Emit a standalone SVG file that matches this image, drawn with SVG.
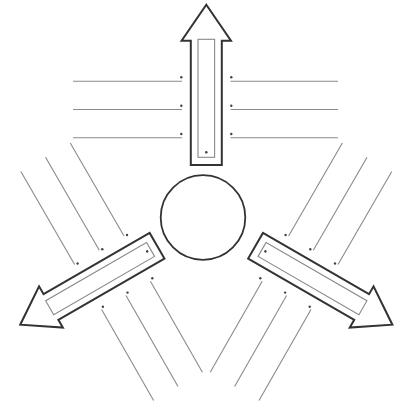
<svg xmlns="http://www.w3.org/2000/svg" width="401" height="406" viewBox="0 0 401 406">
<style>
.arrow{fill:#fff;stroke:#333;stroke-width:2;stroke-linejoin:miter}
.inner{fill:none;stroke:#888;stroke-width:1.1}
.ln{stroke:#8a8a8a;stroke-width:1.1;fill:none}
.dot{fill:#444}
.hub{fill:#fff;stroke:#333;stroke-width:1.8}
</style>
<rect width="401" height="406" fill="#fff"/>
<g id="hub"><circle class="hub" cx="203" cy="217.5" r="42.3"/></g>
<g id="arrow-up" transform="translate(206.3,165)">
<polygon class="arrow" points="-15.5,0 -15.5,-124.3 -24.7,-124.3 0,-160.3 24.7,-124.3 15.5,-124.3 15.5,0"/>
<rect class="inner" x="-8.3" y="-125.7" width="16.6" height="118"/>
<circle class="dot" cx="0" cy="-12.7" r="1.3"/>
</g>
<g id="arrow-left" transform="translate(157.05,245.7) rotate(-120)">
<polygon class="arrow" points="-14.8,0 -14.8,-122.5 -23.8,-122.5 0,-158 23.8,-122.5 14.8,-122.5 14.8,0"/>
<rect class="inner" x="-8" y="-124" width="16" height="116.5"/>
<circle class="dot" cx="0" cy="-11.4" r="1.3"/>
</g>
<g id="arrow-right" transform="translate(255.55,245.7) rotate(120)">
<polygon class="arrow" points="-14.8,0 -14.8,-122.5 -23.8,-122.5 0,-158 23.8,-122.5 14.8,-122.5 14.8,0"/>
<rect class="inner" x="-8" y="-124" width="16" height="116.5"/>
<circle class="dot" cx="0" cy="-11.4" r="1.3"/>
</g>
<g id="connectors">
<line class="ln" x1="73" y1="81.2" x2="182" y2="81.2"/>
<line class="ln" x1="73" y1="109.5" x2="182" y2="109.5"/>
<line class="ln" x1="73" y1="137.8" x2="182" y2="137.8"/>
<line class="ln" x1="230.5" y1="81.2" x2="338" y2="81.2"/>
<line class="ln" x1="230.5" y1="109.5" x2="338" y2="109.5"/>
<line class="ln" x1="230.5" y1="137.8" x2="338" y2="137.8"/>
<line class="ln" x1="20.85" y1="171.4" x2="74.6" y2="264.5"/>
<line class="ln" x1="45.55" y1="157.15" x2="99.3" y2="250.25"/>
<line class="ln" x1="70.25" y1="142.9" x2="124" y2="236"/>
<line class="ln" x1="150.4" y1="281.2" x2="202.4" y2="372.2"/>
<line class="ln" x1="126" y1="295.4" x2="178" y2="386.4"/>
<line class="ln" x1="101.6" y1="309.6" x2="153.6" y2="400.6"/>
<line class="ln" x1="391.75" y1="171.4" x2="338" y2="264.5"/>
<line class="ln" x1="367.05" y1="157.15" x2="313.3" y2="250.25"/>
<line class="ln" x1="342.35" y1="142.9" x2="288.6" y2="236"/>
<line class="ln" x1="262.2" y1="281.2" x2="210.2" y2="372.2"/>
<line class="ln" x1="286.6" y1="295.4" x2="234.6" y2="386.4"/>
<line class="ln" x1="311" y1="309.6" x2="259" y2="400.6"/>
<circle class="dot" cx="181.3" cy="77.3" r="1.2"/>
<circle class="dot" cx="181.3" cy="105.7" r="1.2"/>
<circle class="dot" cx="181.3" cy="134" r="1.2"/>
<circle class="dot" cx="231.3" cy="77.3" r="1.2"/>
<circle class="dot" cx="231.3" cy="105.7" r="1.2"/>
<circle class="dot" cx="231.3" cy="134" r="1.2"/>
<circle class="dot" cx="77.6" cy="263.5" r="1.2"/>
<circle class="dot" cx="102.3" cy="249.2" r="1.2"/>
<circle class="dot" cx="127" cy="235" r="1.2"/>
<circle class="dot" cx="152.3" cy="278.3" r="1.2"/>
<circle class="dot" cx="127.5" cy="292.6" r="1.2"/>
<circle class="dot" cx="102.9" cy="306.7" r="1.2"/>
<circle class="dot" cx="335" cy="263.5" r="1.2"/>
<circle class="dot" cx="310.3" cy="249.2" r="1.2"/>
<circle class="dot" cx="285.6" cy="235" r="1.2"/>
<circle class="dot" cx="260.3" cy="278.3" r="1.2"/>
<circle class="dot" cx="285.1" cy="292.6" r="1.2"/>
<circle class="dot" cx="309.7" cy="306.7" r="1.2"/>
</g>
</svg>
